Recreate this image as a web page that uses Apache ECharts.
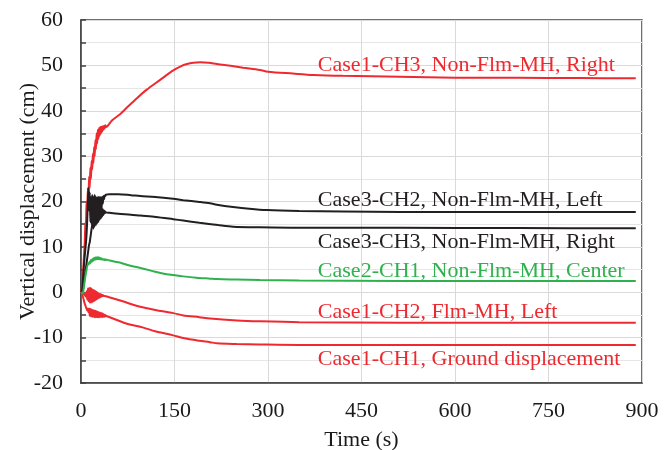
<!DOCTYPE html>
<html>
<head>
<meta charset="utf-8">
<script src="https://cdn.jsdelivr.net/npm/echarts@6/dist/echarts.min.js"></script>
<style>html,body{margin:0;padding:0;background:#fff;}#c{width:672px;height:450px;}</style>
</head>
<body>
<div id="c"></div>
<script>
// ---- Data (time in s, vertical displacement in cm) ----
const xTicks = [0, 150, 300, 450, 600, 750, 900];
const yTicks = [-20, -10, 0, 10, 20, 30, 40, 50, 60];

const case1CH3_t = [0,1,2,3,4,5,6,7,8,9,10,11,12,13,14,15,16,17,18,19,20,21,22,23,24,25,26,27,28,29,30,31,32,33,34,35,36,37,38,39,40,43,50,64,73,90,105,127,148,160,170,180,191,205,218,240,260,287,300,340,373,420,512,600,700,800,890];
const case1CH3_y = [0,0.5,1.5,3.5,6,8.5,11,15,15.5,20,18,23,20.5,25.5,23,27.5,25,29,27,30.5,28.5,32,30,33.5,31.5,35,32.8,35.8,33.8,36.2,34.5,36.4,35,36.5,35.4,36.6,35.8,36.7,36.1,36.8,36.4,36.7,37.9,39.4,40.6,42.8,44.6,46.8,48.9,49.8,50.3,50.6,50.7,50.6,50.3,49.9,49.5,49.0,48.6,48.2,47.9,47.7,47.5,47.3,47.25,47.2,47.15];

const case3CH2_t = [0,1,2,3,4,5,6,7,8,9,10,11,12,13,14,15,16,17,18,19,20,21,22,23,24,25,26,27,28,29,30,31,32,33,34,35,36,37,38,39,40,46,60,80,95,119,148,164,190,207,218,244,270,298,350,420,512,700,890];
const case3CH2_y = [0,0,0.5,2.5,4.5,6.5,8,9.5,11,13,16,20,23,18,22,15.5,21,15,21.5,15.5,21,15.5,21.5,16,21,16,21,16.5,21,17,21,17.5,21,18.5,21,19.5,21.2,20.5,21.3,21.2,21.5,21.6,21.6,21.4,21.2,21.0,20.6,20.3,19.9,19.6,19.3,18.8,18.4,18.1,17.9,17.8,17.7,17.7,17.7];

const case3CH3_t = [0,1,2,3,4,5,6,7,8,9,10,11,12,13,14,15,16,17,18,19,20,21,22,23,24,25,26,27,28,29,30,31,32,33,34,35,36,37,38,39,40,46,60,80,95,120,148,164,190,220,244,287,350,420,512,700,890];
const case3CH3_y = [0,0,0,0.5,1.5,2.5,3.5,4.5,5.5,6.5,7.5,8.5,9.5,10.5,11,12,13,14,15,18.5,14,19,14.5,19.5,14.8,19.5,15.2,19.5,15.5,19.5,16,19,16.3,18.7,16.7,18.3,17,18,17.4,17.8,17.6,17.5,17.3,17.1,16.9,16.6,16.1,15.8,15.3,14.8,14.45,14.3,14.2,14.2,14.2,14.15,14.1];

const case2CH1_t = [0,2,3,4,5,6,7,8,9,10,11,12,13,14,15,16,17,18,19,20,21,22,23,24,25,26,27,28,29,30,31,32,33,34,35,36,37,38,39,40,46,60,75,87,100,119,133,148,164,185,207,218,250,287,350,512,700,890];
const case2CH1_y = [0,-0.2,-0.3,0.5,1.5,2.5,3.5,4.3,5,5.7,5.7,6.4,6.2,6.8,6.4,7.1,6.7,7.3,6.9,7.5,7.1,7.6,7.2,7.7,7.3,7.7,7.3,7.7,7.3,7.6,7.3,7.5,7.2,7.4,7.2,7.3,7.1,7.3,7.1,7.2,7.0,6.6,6.0,5.6,5.2,4.5,4.1,3.8,3.5,3.2,3.0,2.9,2.8,2.7,2.6,2.5,2.5,2.5];

const case1CH2_t = [0,2,4,6,8,9,10,11,12,13,14,15,16,17,18,19,20,21,22,23,24,25,26,27,28,29,30,31,32,33,34,35,36,38,40,48,67,95,119,148,164,190,207,250,287,350,512,890];
const case1CH2_y = [0,-0.2,-0.4,-0.6,-1,0.2,-1.6,0.8,-2.0,1.0,-2.3,1.0,-2.3,0.8,-2.2,0.6,-2.0,0.5,-1.9,0.3,-1.7,0.1,-1.5,-0.1,-1.3,-0.3,-1.2,-0.4,-1.0,-0.5,-0.9,-0.6,-0.8,-0.8,-0.9,-1.2,-2.0,-3.2,-3.9,-4.6,-5.1,-5.5,-5.8,-6.2,-6.4,-6.6,-6.7,-6.7];

const case1CH1_t = [0,2,4,6,8,10,11,12,13,14,15,16,17,18,19,20,21,22,23,24,25,26,27,28,29,30,31,32,33,34,35,36,37,38,39,40,46,67,75,100,119,148,164,190,207,218,250,287,350,512,890];
const case1CH1_y = [0,-0.5,-1.5,-2.5,-3.3,-4,-3.6,-4.4,-3.6,-5.2,-3.7,-5.3,-3.8,-5.4,-3.9,-5.4,-4.0,-5.5,-4.1,-5.5,-4.2,-5.5,-4.3,-5.5,-4.4,-5.5,-4.5,-5.5,-4.6,-5.5,-4.7,-5.4,-4.9,-5.4,-5.0,-5.2,-5.5,-6.6,-7.0,-7.8,-8.6,-9.5,-10.1,-10.7,-11.0,-11.25,-11.4,-11.5,-11.6,-11.6,-11.6];

const seriesNames = [
  'Case1-CH3, Non-Flm-MH, Right',
  'Case3-CH2, Non-Flm-MH, Left',
  'Case3-CH3, Non-Flm-MH, Right',
  'Case2-CH1, Non-Flm-MH, Center',
  'Case1-CH2, Flm-MH, Left',
  'Case1-CH1, Ground displacement'
];
// label anchor (data coords: time, value) for each annotation
const labelAnchorT = [380, 380, 380, 380, 380, 380];
const labelAnchorY = [50.0, 20.3, 11.1, 4.55, -4.5, -14.75];

const RED = '#ee2a30', BLACK = '#231f20', GREEN = '#2fb24e';
const colors = [RED, BLACK, BLACK, GREEN, RED, RED];
const tArrays = [case1CH3_t, case3CH2_t, case3CH3_t, case2CH1_t, case1CH2_t, case1CH1_t];
const yArrays = [case1CH3_y, case3CH2_y, case3CH3_y, case2CH1_y, case1CH2_y, case1CH1_y];

const FONT = '"Liberation Serif", "Times New Roman", serif';

const series = seriesNames.map((name, i) => ({
  name: name,
  type: 'line',
  data: tArrays[i].map((t, k) => [t, yArrays[i][k]]),
  showSymbol: false,
  symbol: 'none',
  smooth: 0.3,
  lineStyle: { color: colors[i], width: 2 },
  z: i === 3 ? 3 : 2,
  markPoint: {
    symbol: 'circle',
    symbolSize: 0,
    silent: true,
    data: [{ coord: [labelAnchorT[i], labelAnchorY[i]] }],
    label: {
      show: true,
      position: 'right',
      distance: 0,
      formatter: name,
      color: colors[i],
      fontSize: 22,
      fontFamily: FONT
    }
  }
}));

const chart = echarts.init(document.getElementById('c'), null, { renderer: 'canvas' });
chart.setOption({
  animation: false,
  backgroundColor: '#ffffff',
  grid: { left: 81, right: 30, top: 20, bottom: 67, show: true, borderColor: '#404040', borderWidth: 1.5, containLabel: false, outerBoundsMode: 'none' },
  xAxis: {
    type: 'value',
    min: xTicks[0], max: xTicks[xTicks.length - 1], interval: 150,
    name: 'Time (s)', nameLocation: 'middle', nameGap: 46, nameMoveOverlap: false,
    nameTextStyle: { color: '#1a1a1a', fontSize: 22, fontFamily: FONT },
    axisLine: { show: true, onZero: false, lineStyle: { color: '#404040', width: 1.5 } },
    axisTick: { show: false },
    axisLabel: { color: '#1a1a1a', fontSize: 22, fontFamily: FONT, margin: 17 },
    splitLine: { show: true, lineStyle: { color: '#d9d9d9', width: 1 } }
  },
  yAxis: {
    type: 'value',
    min: yTicks[0], max: yTicks[yTicks.length - 1], interval: 10,
    name: 'Vertical displacement (cm)', nameLocation: 'middle', nameGap: 42, nameMoveOverlap: false,
    nameTextStyle: { color: '#1a1a1a', fontSize: 22, fontFamily: FONT },
    axisLine: { show: true, lineStyle: { color: '#404040', width: 1.5 } },
    axisTick: { show: true, inside: true, length: 5, lineStyle: { color: '#404040', width: 1.5 } },
    minorTick: { show: true, splitNumber: 2, length: 5, lineStyle: { color: '#404040', width: 1.5 } },
    minorSplitLine: { show: true, lineStyle: { color: '#e6e6e6', width: 1 } },
    axisLabel: { color: '#1a1a1a', fontSize: 22, fontFamily: FONT, margin: 18 },
    splitLine: { show: true, lineStyle: { color: '#d9d9d9', width: 1 } }
  },
  series: series
});
</script>
</body>
</html>
